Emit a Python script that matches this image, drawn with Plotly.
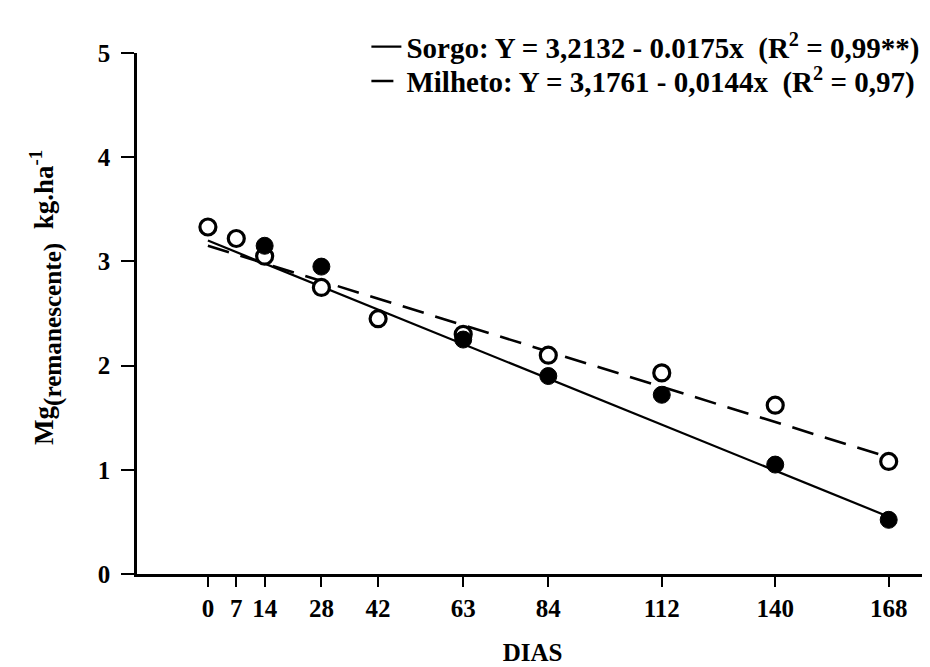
import plotly.graph_objects as go

# ---- data ----
dias_ticks = [0, 7, 14, 28, 42, 63, 84, 112, 140, 168]
y_ticks = [0, 1, 2, 3, 4, 5]

milheto_dias = [0, 7, 14, 28, 42, 63, 84, 112, 140, 168]
milheto_obs = [3.33, 3.22, 3.05, 2.75, 2.45, 2.30, 2.10, 1.93, 1.62, 1.08]

sorgo_dias = [14, 28, 63, 84, 112, 140, 168]
sorgo_obs = [3.15, 2.95, 2.25, 1.90, 1.72, 1.05, 0.52]

# fitted lines as drawn in the figure (endpoints)
line_x = [0, 168]
sorgo_fit = [3.20, 0.55]
milheto_fit = [3.15, 1.12]

sorgo_label = "Sorgo: Y = 3,2132 - 0.0175x  (R<sup>2</sup> = 0,99**)"
milheto_label = "Milheto: Y = 3,1761 - 0,0144x  (R<sup>2</sup> = 0,97)"
y_title = ("Mg<span style='font-size:36px'><sub>(remanescente)</sub></span>"
           "  kg.ha<sup>-1</sup>")
x_title = "DIAS"

FONT = "Liberation Serif"
LEG_FONT = dict(family=FONT, size=29, color="black", weight="bold")

fig = go.Figure()

fig.add_trace(go.Scatter(
    x=line_x, y=sorgo_fit, mode="lines", name=sorgo_label, legend="legend",
    line=dict(color="black", width=2.2)))
fig.add_trace(go.Scatter(
    x=line_x, y=milheto_fit, mode="lines", name=milheto_label, legend="legend2",
    line=dict(color="black", width=2.6, dash="22px,12px")))

fig.add_trace(go.Scatter(
    x=milheto_dias, y=milheto_obs, mode="markers", showlegend=False,
    marker=dict(symbol="circle", size=16, color="white",
                line=dict(color="black", width=3.2))))
fig.add_trace(go.Scatter(
    x=sorgo_dias, y=sorgo_obs, mode="markers", showlegend=False,
    marker=dict(symbol="circle", size=17, color="black",
                line=dict(color="black", width=1))))

fig.update_layout(
    width=930, height=667,
    paper_bgcolor="white", plot_bgcolor="white",
    margin=dict(l=129, r=10, t=45, b=101),
    font=dict(family=FONT, size=24, color="black", weight="bold"),
    legend=dict(x=0.29, y=1.012, xanchor="left", yanchor="middle",
                bgcolor="rgba(0,0,0,0)", font=LEG_FONT, itemwidth=30),
    legend2=dict(x=0.29, y=0.946, xanchor="left", yanchor="middle",
                 bgcolor="rgba(0,0,0,0)", font=LEG_FONT, itemwidth=30),
    xaxis=dict(
        range=[-17.5, 177.7], tickmode="array", tickvals=dias_ticks,
        ticktext=[str(d) for d in dias_ticks],
        showgrid=False, zeroline=False, showline=True,
        linecolor="black", linewidth=2.5,
        ticks="outside", ticklen=10, tickwidth=2, tickcolor="black",
        tickfont=dict(family=FONT, size=25, color="black", weight="bold"),
        title=dict(text=x_title, standoff=23,
                   font=dict(family=FONT, size=25, color="black", weight="bold")),
    ),
    yaxis=dict(
        range=[0, 5], tickmode="array", tickvals=y_ticks,
        ticktext=[str(v) for v in y_ticks],
        showgrid=False, zeroline=False, showline=True,
        linecolor="black", linewidth=2.5,
        ticks="outside", ticklen=13, tickwidth=2, tickcolor="black",
        ticklabelstandoff=6,
        tickfont=dict(family=FONT, size=25, color="black", weight="bold"),
    ),
    annotations=[dict(
        text=y_title, xref="paper", yref="paper", x=-0.115, y=0.53,
        xanchor="center", yanchor="middle", textangle=-90, showarrow=False,
        font=dict(family=FONT, size=27, color="black", weight="bold"))],
)

fig.write_html("out.html")
